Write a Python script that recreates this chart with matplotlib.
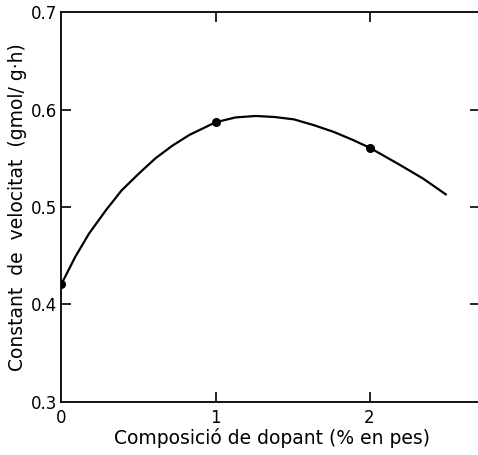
import matplotlib.pyplot as plt
import numpy as np

# measured points (dots)
pts_x = [0, 1, 2]
pts_y = [0.421, 0.587, 0.561]

# hand-drawn curve
curve_x = [0.0, 0.09, 0.18, 0.29, 0.39, 0.50, 0.61, 0.72, 0.83, 1.0,
           1.13, 1.26, 1.38, 1.51, 1.64, 1.77, 1.89, 2.0, 2.2, 2.35, 2.495]
curve_y = [0.421, 0.449, 0.473, 0.497, 0.517, 0.534, 0.550, 0.563, 0.574, 0.587,
           0.592, 0.5935, 0.5925, 0.590, 0.584, 0.577, 0.569, 0.561, 0.543, 0.529, 0.513]

xticks = [0, 1, 2]
yticks = [0.3, 0.4, 0.5, 0.6, 0.7]

fig = plt.figure(figsize=(4.78, 4.55), dpi=100)
# right edge of the frame lies just off the picture, as in the scan
ax = fig.add_axes([61.5/478, 53.3/455, 420.5/478, 389.4/455])

ax.plot(curve_x, curve_y, color='black', lw=1.6, solid_joinstyle='round')
ax.plot(pts_x, pts_y, 'o', color='black', ms=5.5)

ax.set_xlim(0, 420.5/154)
ax.set_ylim(0.3, 0.7)
ax.set_xticks(xticks)
ax.set_yticks(yticks)
ax.set_yticklabels(['0.3', '0.4', '0.5', '0.6', '0.7'])

ax.tick_params(direction='in', length=7, width=1.2, top=True, right=True,
               labelsize=12, pad=3)
ax.tick_params(axis='y', which='both', right=True, length=7)
ax.tick_params(axis='x', pad=5)
ax.yaxis.set_tick_params(which='major', pad=3)
# right ticks: draw them a little longer so they peek in from the cut edge
for t in ax.yaxis.get_major_ticks():
    t.tick2line.set_markersize(9)
# no tick marks sitting on the corners
t = ax.xaxis.get_major_ticks()[0]
t.tick1line.set_visible(False)
t.tick2line.set_visible(False)
for i in (0, 4):
    t = ax.yaxis.get_major_ticks()[i]
    t.tick1line.set_visible(False)
    t.tick2line.set_visible(False)
for s in ax.spines.values():
    s.set_linewidth(1.3)
ax.spines['right'].set_visible(False)

ax.set_xlabel('Composició de dopant (% en pes)', fontsize=13.5, labelpad=1)
ax.set_ylabel('Constant  de  velocitat  (gmol/ g·h)', fontsize=13.5, labelpad=3)

fig.savefig('out.png', dpi=100)
